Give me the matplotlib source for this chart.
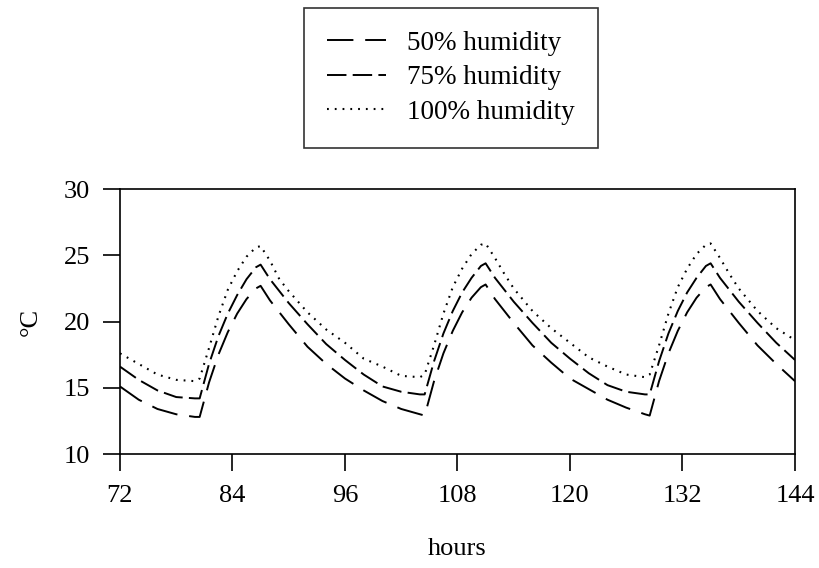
import matplotlib
matplotlib.use('Agg')
import matplotlib.pyplot as plt

# ── data ──
hours = [72, 74, 76, 78, 80, 80.5, 81.5, 82.5, 83.5, 84.5, 85.5, 86.5, 87, 88, 89, 90,
         92, 94, 96, 98, 100, 102, 104,
         104.5, 105.5, 106.5, 107.5, 108.5, 109.5, 110.5, 111, 112, 113, 114,
         116, 118, 120, 122, 124, 126, 128,
         128.5, 129.5, 130.5, 131.5, 132.5, 133.5, 134.5, 135, 136, 137, 138,
         140, 142, 144]

hum_50 = [15.1, 14.1, 13.4, 13.0, 12.8, 12.8, 15.4, 17.5, 19.2, 20.6, 21.7, 22.5, 22.7, 21.6, 20.7, 19.8,
          18.1, 16.8, 15.7, 14.8, 14.0, 13.4, 13.0,
          12.9, 15.5, 17.6, 19.3, 20.7, 21.8, 22.6, 22.8, 21.7, 20.8, 19.9,
          18.2, 16.9, 15.7, 14.9, 14.1, 13.5, 13.0,
          12.9, 15.5, 17.6, 19.3, 20.7, 21.8, 22.6, 22.8, 21.7, 20.8, 19.9,
          18.2, 16.8, 15.5]

hum_75 = [16.6, 15.6, 14.8, 14.3, 14.2, 14.2, 16.8, 18.9, 20.6, 22.0, 23.2, 24.1, 24.3, 23.2, 22.3, 21.4,
          19.8, 18.3, 17.1, 16.0, 15.1, 14.7, 14.5,
          14.5, 17.0, 19.1, 20.8, 22.2, 23.3, 24.2, 24.4, 23.3, 22.4, 21.5,
          19.9, 18.4, 17.2, 16.1, 15.2, 14.7, 14.5,
          14.5, 17.0, 19.1, 20.8, 22.2, 23.3, 24.2, 24.4, 23.3, 22.4, 21.5,
          19.9, 18.4, 17.1]

hum_100 = [17.6, 16.8, 16.0, 15.6, 15.5, 15.7, 18.0, 20.4, 22.4, 23.8, 24.9, 25.6, 25.7, 24.6, 23.2, 22.3,
           20.7, 19.4, 18.4, 17.2, 16.6, 15.9, 15.8,
           16.0, 18.2, 20.6, 22.6, 24.0, 25.1, 25.8, 25.9, 24.8, 23.6, 22.5,
           20.8, 19.5, 18.4, 17.3, 16.6, 16.0, 15.8,
           16.0, 18.2, 20.6, 22.6, 24.0, 25.1, 25.8, 25.9, 24.8, 23.6, 22.5,
           20.8, 19.5, 18.6]

x_ticks = [72, 84, 96, 108, 120, 132, 144]
y_ticks = [10, 15, 20, 25, 30]

# ── style ──
plt.rcParams['font.family'] = 'Liberation Serif'
plt.rcParams['lines.scale_dashes'] = False
plt.rcParams['axes.linewidth'] = 1.2

fig = plt.figure(figsize=(8.2, 5.68), dpi=100)
ax = fig.add_axes([0.1463, 0.2007, 0.8232, 0.4663])

ax.plot(hours, hum_50, color='black', lw=1.4, dashes=(19, 8.5), label='50% humidity')
ax.plot(hours, hum_75, color='black', lw=1.4, dashes=(14, 4.5), label='75% humidity')
ax.plot(hours, hum_100, color='black', lw=1.5, dashes=(1.3, 4.3), label='100% humidity')

ax.set_xlim(72, 144)
ax.set_ylim(10, 30)
ax.set_xticks(x_ticks)
ax.set_yticks(y_ticks)
ax.tick_params(direction='out', length=12.5, width=1.2, labelsize=19)
ax.tick_params(axis='x', pad=10)
ax.tick_params(axis='y', pad=9)
ax.set_xlabel('hours', fontsize=19, labelpad=22)
ax.set_ylabel('°C', fontsize=19, labelpad=16)

leg = fig.legend(loc='upper center', bbox_to_anchor=(0.55, 0.986), fontsize=19.5,
                 frameon=True, fancybox=False, edgecolor='black', handlelength=2.2,
                 handletextpad=0.78, labelspacing=0.35, borderpad=0.85, borderaxespad=0)
leg.get_frame().set_linewidth(1.2)

fig.savefig('out.png', dpi=100, facecolor='white')
